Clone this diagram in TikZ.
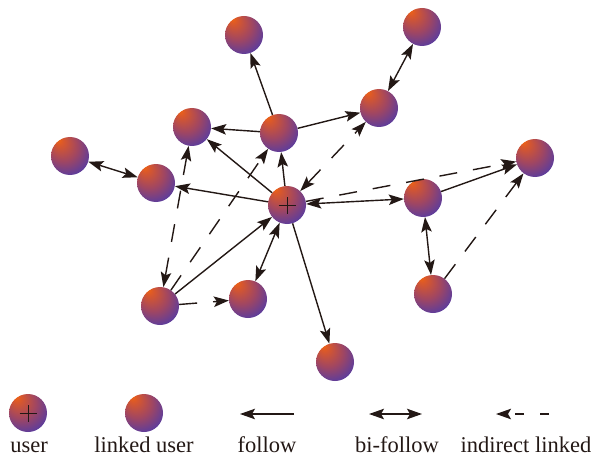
\documentclass[tikz,border=0pt]{standalone}
\usepackage{fontspec}
\setmainfont{Liberation Serif}
\usetikzlibrary{arrows.meta}
\definecolor{ink}{RGB}{35,24,21}
\definecolor{sA}{RGB}{240,100,18}
\definecolor{sB}{RGB}{218,88,42}
\definecolor{sC}{RGB}{160,70,98}
\definecolor{sD}{RGB}{90,60,158}
\definecolor{sE}{RGB}{30,42,168}
\pgfdeclareradialshading{sphshade}{\pgfpoint{-16bp}{22bp}}{color(0bp)=(sA); color(5bp)=(sB); color(20bp)=(sC); color(34bp)=(sD); color(46bp)=(sE); color(50bp)=(sE)}
\tikzset{
  sph/.style={circle, minimum size=38pt, inner sep=0pt, shading=sphshade},
  tip/.tip={Stealth[length=15pt,width=10.5pt,inset=3pt]},
  fol/.style={draw=ink, line width=1.4pt, -tip},
  bif/.style={draw=ink, line width=1.4pt, tip-tip},
  ind/.style={fol, dash pattern=on 18pt off 16pt},
  indbi/.style={bif, dash pattern=on 18pt off 16pt},
  lab/.style={font=\fontsize{22.5}{26}\selectfont, text=ink, anchor=base, inner sep=0pt}
}
\begin{document}
\begin{tikzpicture}[x=1pt,y=-1pt]
\useasboundingbox (0,0) rectangle (593,457);
% nodes
\node[sph] (U) at (287,205) {};
\node[sph] (A) at (244,35) {};
\node[sph] (B) at (422,27) {};
\node[sph] (C) at (379,108) {};
\node[sph] (D) at (279,133) {};
\node[sph] (E) at (192,127) {};
\node[sph] (F) at (70,156) {};
\node[sph] (G) at (156,183) {};
\node[sph] (H) at (423,198) {};
\node[sph] (I) at (535,158) {};
\node[sph] (J) at (433,294) {};
\node[sph] (K) at (160,306) {};
\node[sph] (L) at (248,299) {};
\node[sph] (M) at (335,362) {};
\draw[ink, line width=1pt] ([xshift=-8.5pt]U.center) -- ([xshift=8.5pt]U.center)
  ([yshift=-8.5pt]U.center) -- ([yshift=8.5pt]U.center);
% follow
\draw[fol] (D) -- (A);
\draw[fol] (D) -- (E);
\draw[fol] (D) -- (C);
\draw[fol] (U) -- (D);
\draw[fol] (U) -- (E);
\draw[fol] (U) -- (G);
\draw[fol] (H) -- (I);
\draw[fol] (K) -- (U);
\draw[fol] (U) -- (M);
% bi-follow
\draw[bif] (C) -- (B);
\draw[bif] (F) -- (G);
\draw[bif] (U) -- (H);
\draw[bif] (H) -- (J);
\draw[bif] (U) -- (L);
% indirect
\draw[ind] (J) -- (I);
\draw[ind] (U) -- (I);
\draw[indbi] (U) -- (C);
\draw[indbi] (E) -- (K);
\draw[ind] (K) -- (D);
\draw[ind] (K) -- (L);
% legend
\node[sph] (LU) at (28,413) {};
\draw[ink, line width=1pt] ([xshift=-8.5pt]LU.center) -- ([xshift=8.5pt]LU.center)
  ([yshift=-8.5pt]LU.center) -- ([yshift=8.5pt]LU.center);
\node[sph] (LL) at (144,413) {};
\coordinate (f1) at (294,414); \coordinate (f2) at (240,414);
\coordinate (b1) at (369,414); \coordinate (b2) at (422,414);
\coordinate (i1) at (549,414); \coordinate (i2) at (496,414);
\draw[fol] (f1) -- (f2);
\draw[bif] (b1) -- (b2);
\draw[fol, dash pattern=on 9pt off 16pt] (i1) -- (i2);
\node[lab] (t1) at (29,452) {user};
\node[lab] (t2) at (144,452) {linked user};
\node[lab] (t3) at (267,452) {follow};
\node[lab] (t4) at (397,452) {bi-follow};
\node[lab] (t5) at (526,452) {indirect linked};
\end{tikzpicture}
\end{document}
